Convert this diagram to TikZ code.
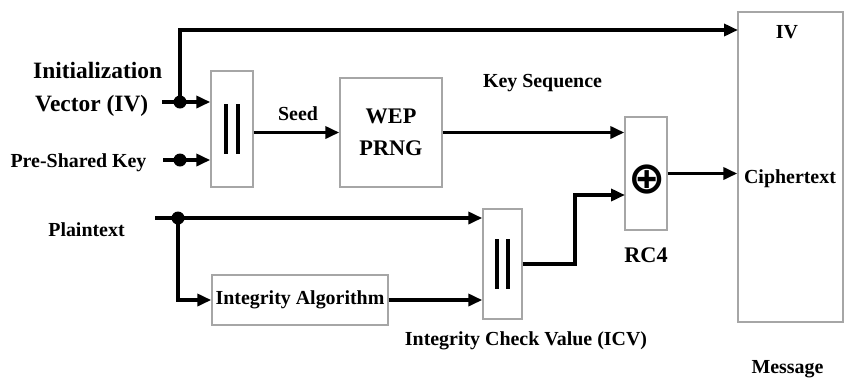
\documentclass[tikz,border=0pt]{standalone}
\usepackage{fontspec}
\setmainfont{Liberation Serif}
\newfontfamily\symfont{DejaVu Sans}
\usetikzlibrary{arrows.meta}
\tikzset{
	blk/.style={draw=gray!70, line width=1.2pt, inner sep=0pt},
	lbl/.style={font=\bfseries\fontsize{17}{21}\selectfont, inner sep=0pt},
	big/.style={font=\bfseries\fontsize{19}{27}\selectfont, inner sep=0pt},
	huge/.style={font=\bfseries\fontsize{20}{25}\selectfont, inner sep=0pt},
	xorsym/.style={font=\symfont\bfseries\fontsize{38}{38}\selectfont, inner sep=0pt},
	conn/.style={line width=3pt, -{Triangle[length=4.2mm,width=3.6mm]}},
	jn/.style={circle, fill, inner sep=0pt, minimum size=3.9mm},
	bar/.style={line width=2.6pt},
}
\begin{document}
\begin{tikzpicture}[x=0.03cm, y=-0.03cm]
\useasboundingbox (0,0) rectangle (849,383) ;
		\node (cat1)[blk, minimum width=1.26cm, minimum height=3.48cm] at (232,129) {} ;
		\node (prng)[blk, big, align=center, minimum width=3.06cm, minimum height=3.27cm] at (391,132.5) {WEP\\PRNG} ;
		\node (xor)[blk, minimum width=1.26cm, minimum height=3.39cm] at (646,173.5) {} ;
		\node (xorsign)[xorsym] at (647,180) {⊕} ;
		\node (intalg)[blk, lbl, minimum width=5.28cm, minimum height=1.5cm] at (300,300) {Integrity Algorithm} ;
		\node (cat2)[blk, minimum width=1.17cm, minimum height=3.3cm] at (502.5,264) {} ;
		\node (msg)[blk, minimum width=3.15cm, minimum height=9.3cm] at (790.5,167) {} ;
	\draw[bar] (cat1.center) ++(-6,-25) -- ++(0,50) ;
	\draw[bar] (cat1.center) ++(6,-25) -- ++(0,50) ;
	\draw[bar] (cat2.center) ++(-5.5,-25) -- ++(0,50) ;
	\draw[bar] (cat2.center) ++(5.5,-25) -- ++(0,50) ;
		\node (ivlbl1)[huge, anchor=base west] at (33,78) {Initialization} ;
		\node (ivlbl2)[huge, anchor=base west] at (35,111) {Vector (IV)} ;
		\node (psklbl)[lbl, anchor=base] at (78.5,167) {Pre-Shared Key} ;
		\node (ptlbl)[lbl, anchor=base] at (86.5,236) {Plaintext} ;
		\node (seedlbl)[lbl, anchor=base] at (298,120) {Seed} ;
		\node (kslbl)[lbl, anchor=base] at (542.5,87) {Key Sequence} ;
		\node (rclbl)[big, anchor=base] at (646,262) {RC4} ;
		\node (icvlbl)[lbl, anchor=base] at (526,345) {Integrity Check Value (ICV)} ;
		\node (ivfld)[lbl, anchor=base] at (787,38) {IV} ;
		\node (ctfld)[lbl, anchor=base] at (790,183) {Ciphertext} ;
		\node (msglbl)[lbl, anchor=base] at (787.5,373) {Message} ;
		\node (dotiv)[jn] at (180,102) {} ;
		\node (dotpsk)[jn] at (180,160) {} ;
		\node (dotpt)[jn] at (178,218) {} ;
	\coordinate (ivin) at (162,102) ;
	\coordinate (pskin) at (163,160) ;
	\coordinate (ptin) at (155,218) ;
	\coordinate (ivout) at (738,30) ;
	\coordinate (bend) at (575,195) ;
	\coordinate (icvin) at (625,195) ;
	\draw[conn] (ivin) -- (cat1.west |- ivin) ;
	\draw[conn] (pskin) -- (cat1.west |- pskin) ;
	\draw[conn] (dotiv.center) |- (ivout) ;
	\draw[conn] (cat1.east |- prng.west) -- (prng.west) ;
	\draw[conn] (prng.east) -- (prng.east -| xor.west) ;
	\draw[conn] (xor.east) -- (xor.east -| msg.west) ;
	\draw[conn] (ptin) -- (cat2.west |- ptin) ;
	\draw[conn] (dotpt.center) |- (intalg.west) ;
	\draw[conn] (intalg.east) -- (intalg.east -| cat2.west) ;
	\draw[conn] (cat2.east) -| (bend) -- (icvin) ;
\end{tikzpicture}
\end{document}
